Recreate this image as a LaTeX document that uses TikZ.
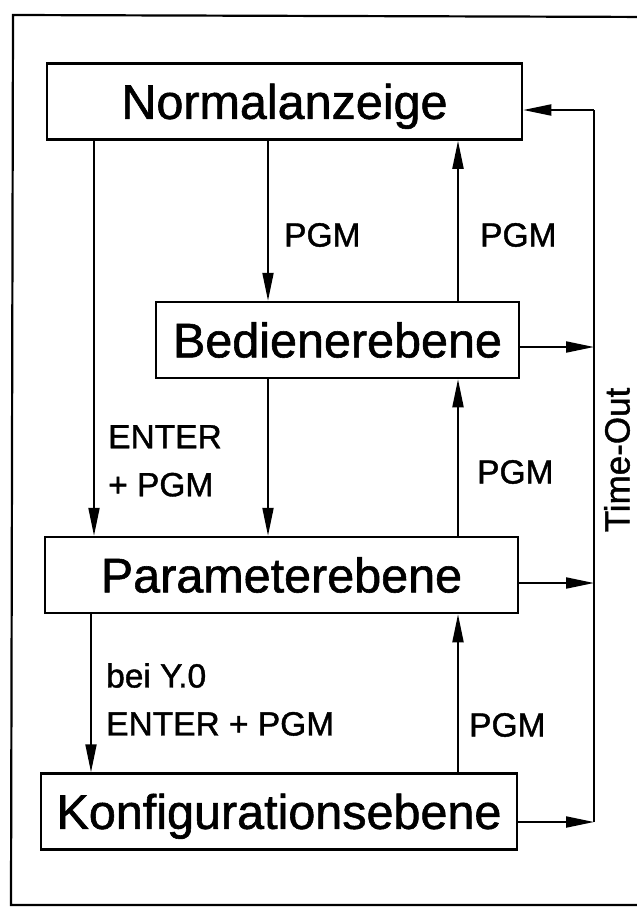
\documentclass[tikz,border=0pt]{standalone}
\usepackage{fontspec}
\setmainfont[FakeBold=1.2]{Liberation Sans}
\usetikzlibrary{arrows.meta}
\begin{document}
\begin{tikzpicture}[x=1pt,y=-1pt,
  box/.style={draw, line width=2.5pt, inner sep=0pt, minimum height=76pt,
    text height=34.7pt, text depth=0pt, font=\fontsize{48.5}{58}\selectfont},
  lab/.style={inner sep=0pt, font=\fontsize{33.5}{48}\selectfont, align=left},
  arr/.style={line width=2pt, -{Triangle[length=28pt,width=11pt]}},
  frameline/.style={line width=2.2pt}]
\clip (0,0) rectangle (637,908);
\useasboundingbox (0,0) rectangle (637,908);
\fill[white] (0,0) rectangle (637,908);
\draw[frameline] (660,17) -- (13,15) -- (11,905) -- (660,905);

\node[box, minimum width=475pt] (N) at (284.5,101.5) {Normalanzeige};
\node[box, minimum width=363pt] (B) at (337.5,340) {Bedienerebene};
\node[box, minimum width=473pt] (P) at (281.5,575) {Parameterebene};
\node[box, minimum width=476pt] (K) at (279,811.5) {Konfigurationsebene};

\coordinate (xa) at (94,0);
\coordinate (xb) at (268,0);
\coordinate (xc) at (458,0);
\coordinate (xd) at (91,0);

\draw[arr] (N.south -| xa) -- (P.north -| xa);
\draw[arr] (N.south -| xb) -- (B.north -| xb);
\draw[arr] (B.south -| xb) -- (P.north -| xb);
\draw[arr] (B.north -| xc) -- (N.south -| xc);
\draw[arr] (P.north -| xc) -- (B.south -| xc);
\draw[arr] (K.north -| xc) -- (P.south -| xc);
\draw[arr] (P.south -| xd) -- (K.north -| xd);

\coordinate (ttop) at (594,110);
\coordinate (tb) at (594,347);
\coordinate (tp) at (594,583);
\coordinate (tbot) at (594,822);
\draw[line width=2pt] (tbot) -- (ttop);
\draw[arr] (ttop) -- (N.east |- ttop);
\draw[arr] (B.east |- tb) -- (tb);
\draw[arr] (P.east |- tp) -- (tp);
\draw[arr] (K.east |- tbot) -- (tbot);

\node[lab, anchor=west] (l1) at (284,235) {PGM};
\node[lab, anchor=west] (l2) at (480,235) {PGM};
\node[lab, anchor=north west] (l3) at (108,425) {ENTER\\+ PGM};
\node[lab, anchor=west] (l4) at (477,472) {PGM};
\node[lab, anchor=north west] (l5) at (106,663) {bei Y.0\\ENTER + PGM};
\node[lab, anchor=west] (l6) at (469,725) {PGM};
\node[inner sep=0pt, rotate=90, font=\fontsize{35}{40}\selectfont] (to) at (617,460) {Time-Out};
\end{tikzpicture}
\end{document}
